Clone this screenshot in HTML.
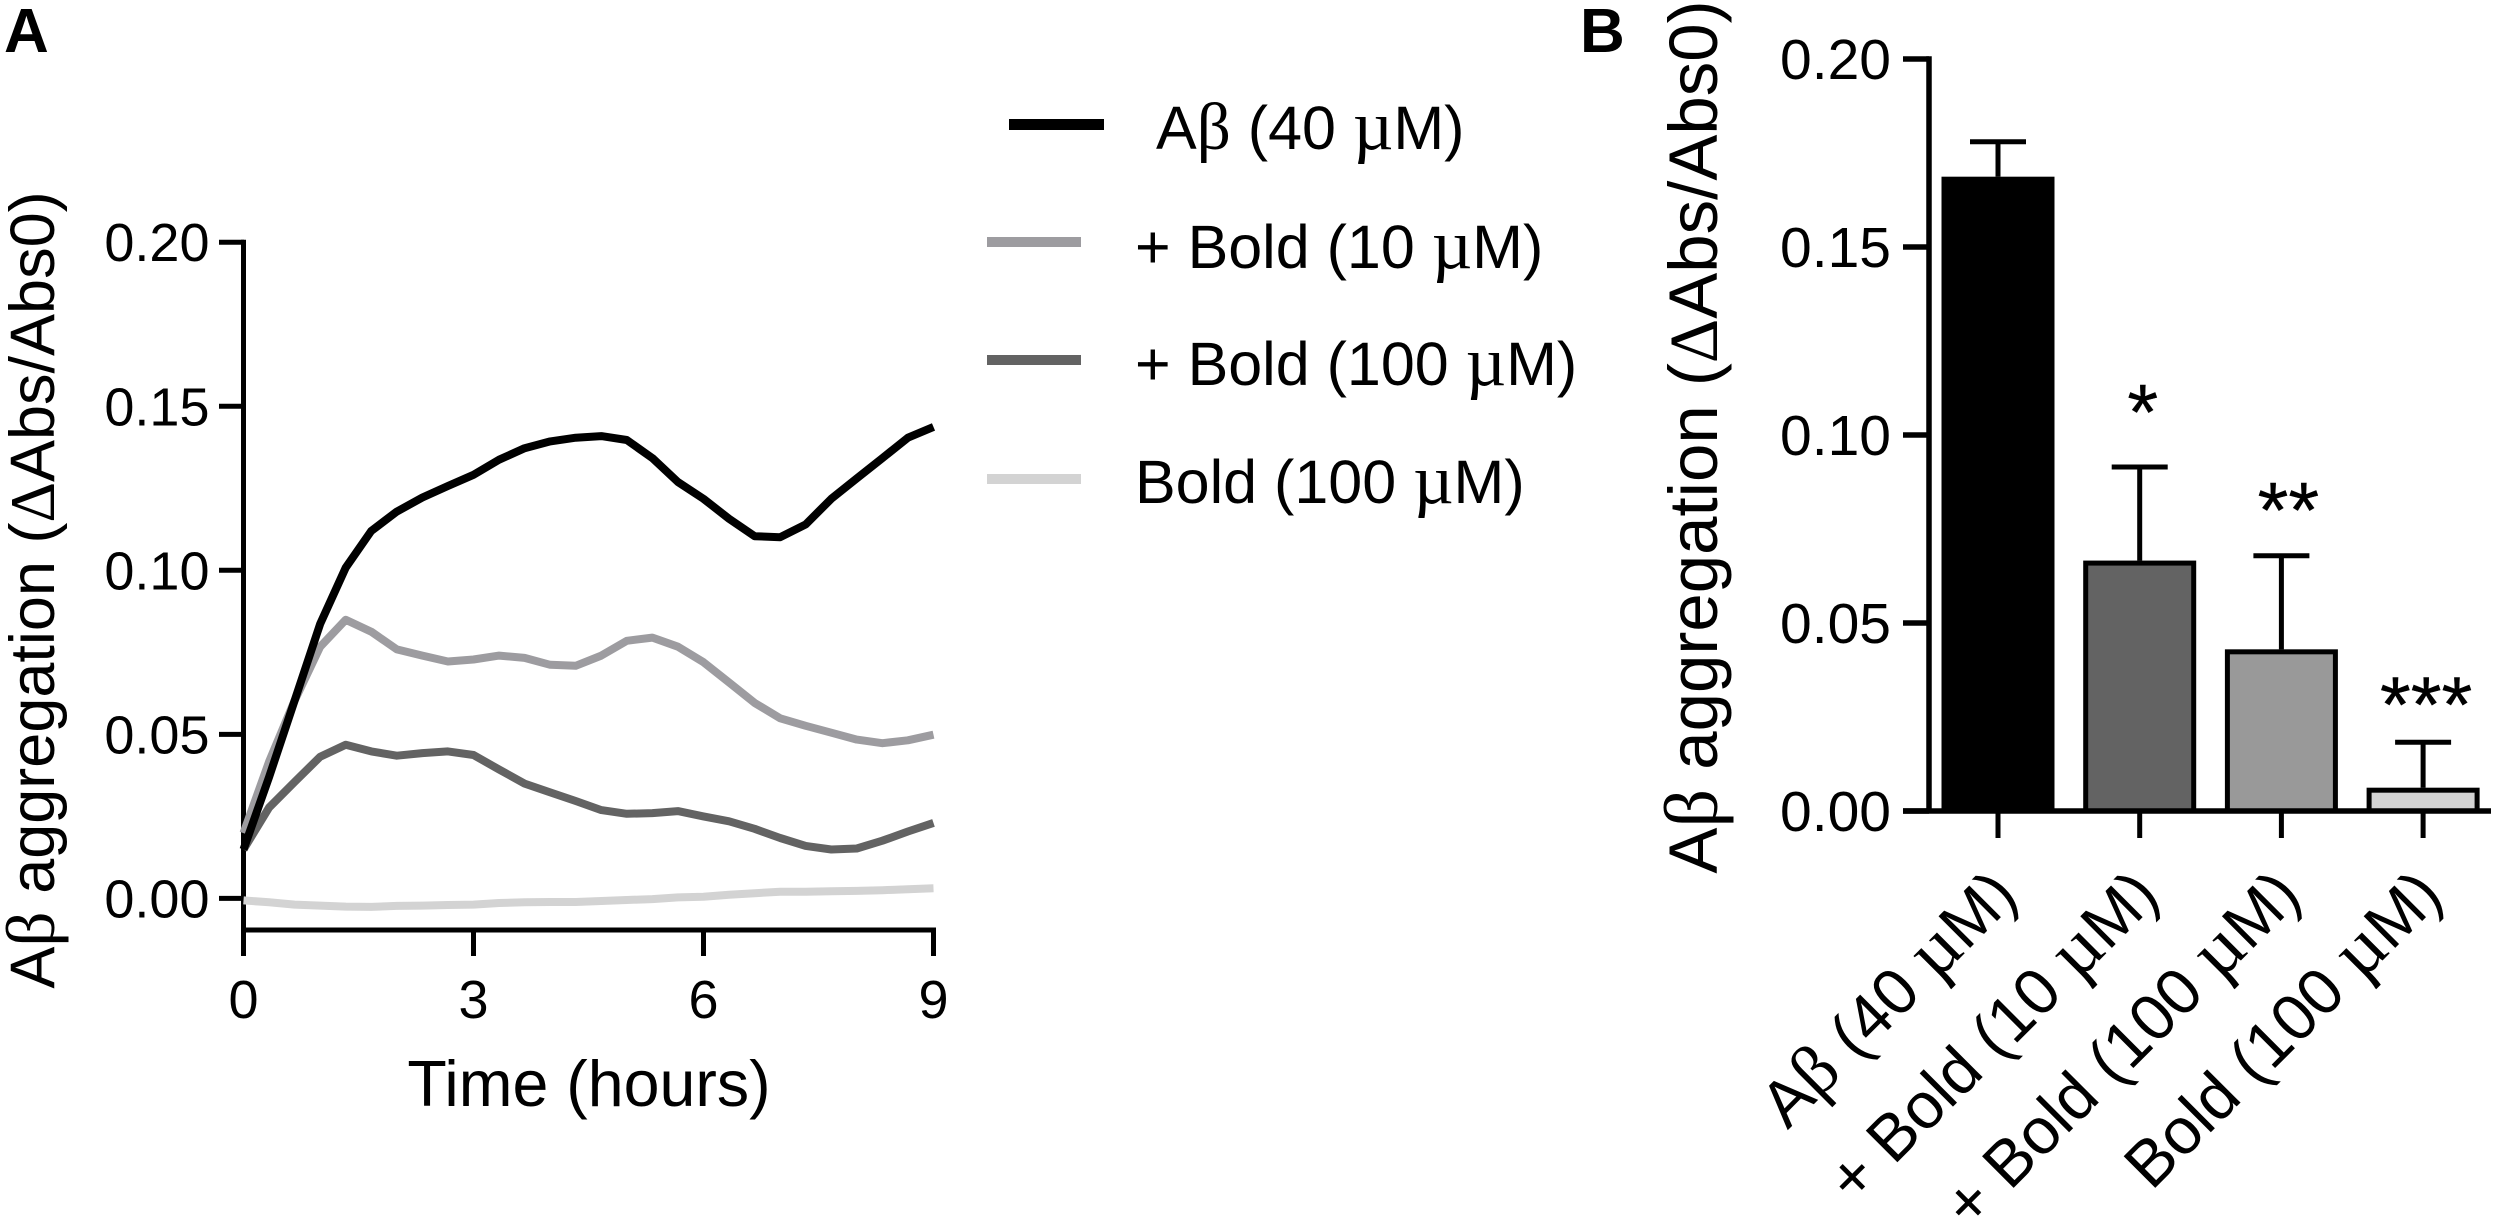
<!DOCTYPE html>
<html lang="en">
<head>
<meta charset="utf-8">
<title>Aβ aggregation chart</title>
<style>
html,body{margin:0;padding:0;background:#fff;}
svg{display:block;}
text{font-family:"Liberation Sans",Arial,sans-serif;fill:#000;}
.g{font-family:"Liberation Serif",serif;}
.m{font-family:"Liberation Serif",serif;font-size:115%;}
.b{font-family:"Liberation Serif",serif;font-size:110%;}
.leg{font-size:61px;}
.title-a{font-size:63px;}
.title-x{font-size:64.5px;}
.title-b{font-size:69px;}
.panel{font-size:62px;font-weight:bold;}
</style>
</head>
<body>
<svg id="figure" xmlns="http://www.w3.org/2000/svg" width="2500" height="1221" viewBox="0 0 2500 1221">
  <rect x="0" y="0" width="2500" height="1221" fill="#fff"/>
  <text class="panel" x="4" y="52">A</text>
  <text class="panel" x="1580" y="52">B</text>

  <g id="panel-a"></g>
  <g id="panel-b"></g>

  <text class="title-a" text-anchor="middle" transform="translate(54,590) rotate(-90)">A<tspan class="b">β</tspan> aggregation (<tspan class="g">Δ</tspan>Abs/Abs0)</text>
  <text class="title-x" text-anchor="middle" x="589" y="1106">Time (hours)</text>
  <text class="title-b" text-anchor="middle" transform="translate(1717,437) rotate(-90)">A<tspan class="b">β</tspan> aggregation (<tspan class="g">Δ</tspan>Abs/Abs0)</text>

  <g>
    <rect x="1009" y="119" width="95" height="11" fill="#000"/>
    <text class="leg" x="1156" y="149">A<tspan class="b">β</tspan> (40 <tspan class="m">µ</tspan>M)</text>
    <rect x="987" y="237" width="94" height="10" fill="#9d9ca0"/>
    <text class="leg" x="1135" y="268">+ Bold (10 <tspan class="m">µ</tspan>M)</text>
    <rect x="987" y="355" width="94" height="10" fill="#636363"/>
    <text class="leg" x="1135" y="385">+ Bold (100 <tspan class="m">µ</tspan>M)</text>
    <rect x="987" y="474" width="94" height="10" fill="#d3d3d3"/>
    <text class="leg" x="1135" y="503">Bold (100 <tspan class="m">µ</tspan>M)</text>
  </g>
</svg>
<script>
// ---------- Panel A data ----------
const timeStepHours = 1 / 3;
const seriesAbeta40 = [0.0149,0.037,0.0603,0.0837,0.1008,0.112,0.1179,0.1222,0.1257,0.1291,0.1337,0.1372,0.1393,0.1404,0.1409,0.1397,0.1342,0.1269,0.1218,0.1157,0.1104,0.1101,0.114,0.1218,0.128,0.1342,0.1404,0.1437];
const seriesBold10 = [0.0199,0.0417,0.0603,0.0767,0.0849,0.0813,0.0759,0.074,0.0722,0.0728,0.074,0.0733,0.0712,0.0709,0.074,0.0785,0.0795,0.0767,0.072,0.0658,0.0596,0.0549,0.0526,0.0505,0.0484,0.0473,0.0482,0.0499];
const seriesBold100 = [0.0149,0.0277,0.0355,0.0432,0.0468,0.0448,0.0435,0.0443,0.0448,0.0437,0.0393,0.035,0.0323,0.0297,0.0269,0.0258,0.026,0.0266,0.025,0.0235,0.0212,0.0184,0.016,0.0149,0.0152,0.0176,0.0204,0.023];
const seriesBoldOnly100 = [-0.0006,-0.0012,-0.0019,-0.0022,-0.0025,-0.0026,-0.0023,-0.0022,-0.002,-0.0019,-0.0014,-0.0012,-0.0011,-0.0011,-0.0008,-0.0005,-0.0002,0.0003,0.0005,0.0011,0.0016,0.002,0.002,0.0022,0.0023,0.0025,0.0028,0.0031];
const lineYTicks = [0, 0.05, 0.10, 0.15, 0.20];
const lineYTickLabels = ["0.00", "0.05", "0.10", "0.15", "0.20"];
const lineXTicks = [0, 3, 6, 9];
const lineXTickLabels = ["0", "3", "6", "9"];

// ---------- Panel B data ----------
const barCategories = ["Aβ (40 µM)", "+ Bold (10 µM)", "+ Bold (100 µM)", "Bold (100 µM)"];
const barValues = [0.1687, 0.0666, 0.043, 0.0062];
const barErrorTops = [0.178, 0.0915, 0.0679, 0.0183];
const barSignificance = ["", "*", "**", "***"];
const barSignificanceLevels = [0, 0.0988, 0.0727, 0.021];
const barYTicks = [0, 0.05, 0.10, 0.15, 0.20];
const barYTickLabels = ["0.00", "0.05", "0.10", "0.15", "0.20"];

const NS = "http://www.w3.org/2000/svg";
function mk(tag, attrs, parent) {
  const el = document.createElementNS(NS, tag);
  for (const k in attrs) el.setAttribute(k, attrs[k]);
  parent.appendChild(el);
  return el;
}
function greekText(el, str) {
  str.split(/([βµ])/).forEach(function (part) {
    if (!part) return;
    if (part === "β" || part === "µ") {
      const t = document.createElementNS(NS, "tspan");
      t.setAttribute("class", part === "β" ? "b" : "m");
      t.textContent = part;
      el.appendChild(t);
    } else {
      el.appendChild(document.createTextNode(part));
    }
  });
}

// ---------- Panel A scales ----------
const xA = function (h) { return 243.5 + (h / 9) * 690; };
const yA = function (v) { return 898.4 - v * 3281; };
const panelA = document.getElementById("panel-a");

lineYTicks.forEach(function (v, i) {
  const t = mk("line", {x1: 219, x2: 244, y1: yA(v), y2: yA(v), stroke: "#000", "stroke-width": 5}, panelA);
  
  
  const l = mk("text", {x: 209.5, y: yA(v) + 19, "text-anchor": "end", "font-size": 54}, panelA);
  
  
  l.textContent = lineYTickLabels[i];
});
lineXTicks.forEach(function (h, i) {
  const t = mk("line", {x1: xA(h), x2: xA(h), y1: 930, y2: 956, stroke: "#000", "stroke-width": 5}, panelA);
  
  
  const l = mk("text", {x: xA(h), y: 1018, "text-anchor": "middle", "font-size": 54}, panelA);
  
  
  l.textContent = lineXTickLabels[i];
});
const axAY = mk("line", {x1: xA(0), x2: xA(0), y1: yA(0.2) - 2.5, y2: 932.5, stroke: "#000", "stroke-width": 5}, panelA);


const axAX = mk("line", {x1: xA(0) - 2.5, x2: xA(9) + 2.5, y1: 930, y2: 930, stroke: "#000", "stroke-width": 5}, panelA);



function linePoints(values) {
  return values.map(function (v, i) { return xA(i * timeStepHours).toFixed(1) + "," + yA(v).toFixed(1); }).join(" ");
}
const lineBold10 = mk("polyline", {points: linePoints(seriesBold10), fill: "none", stroke: "#9d9ca0", "stroke-width": 8, "stroke-linejoin": "round"}, panelA);


const lineBold100 = mk("polyline", {points: linePoints(seriesBold100), fill: "none", stroke: "#636363", "stroke-width": 8, "stroke-linejoin": "round"}, panelA);


const lineBoldOnly = mk("polyline", {points: linePoints(seriesBoldOnly100), fill: "none", stroke: "#d3d3d3", "stroke-width": 8, "stroke-linejoin": "round"}, panelA);


const lineAbeta = mk("polyline", {points: linePoints(seriesAbeta40), fill: "none", stroke: "#000", "stroke-width": 8, "stroke-linejoin": "round"}, panelA);



// ---------- Panel B scales ----------
const xB = function (i) { return 1998 + i * 141.7; };
const yB = function (v) { return 811 - v * 3760; };
const barFills = ["#000000", "#636363", "#999999", "#d3d3d3"];
const panelB = document.getElementById("panel-b");

barYTicks.forEach(function (v, i) {
  const t = mk("line", {x1: 1903, x2: 1929, y1: yB(v), y2: yB(v), stroke: "#000", "stroke-width": 5.5}, panelB);
  
  
  const l = mk("text", {x: 1891, y: yB(v) + 20, "text-anchor": "end", "font-size": 57}, panelB);
  
  
  l.textContent = barYTickLabels[i];
});

barValues.forEach(function (v, i) {
  const cx = xB(i);
  const stem = mk("line", {x1: cx, x2: cx, y1: yB(barErrorTops[i]), y2: yB(v), stroke: "#000", "stroke-width": 5}, panelB);
  
  
  const cap = mk("line", {x1: cx - 28, x2: cx + 28, y1: yB(barErrorTops[i]), y2: yB(barErrorTops[i]), stroke: "#000", "stroke-width": 5}, panelB);
  
  
  const bar = mk("rect", {x: cx - 54, y: yB(v) + 2.5, width: 108, height: Math.max(0, yB(0) - yB(v) - 2.5), fill: barFills[i], stroke: "#000", "stroke-width": 5}, panelB);
  
  
  const tick = mk("line", {x1: cx, x2: cx, y1: 811, y2: 838, stroke: "#000", "stroke-width": 5}, panelB);
  
  
  const lab = mk("text", {"text-anchor": "end", "font-size": 65, transform: "translate(" + (cx + 22) + ",898) rotate(-45)"}, panelB);
  
  
  greekText(lab, barCategories[i]);
  if (barSignificance[i]) {
    const s = mk("text", {x: cx + (i === 2 ? 7 : 3), y: yB(barSignificanceLevels[i]), "text-anchor": "middle", "font-size": 79, stroke: "#000", "stroke-width": 0.4}, panelB);
    
    
    s.textContent = barSignificance[i];
  }
});
const axBY = mk("line", {x1: 1929, x2: 1929, y1: yB(0.2) - 2.75, y2: 813, stroke: "#000", "stroke-width": 5.5}, panelB);


const axBX = mk("line", {x1: 1903, x2: 2491, y1: 811, y2: 811, stroke: "#000", "stroke-width": 5.5}, panelB);


</script>
</body>
</html>
